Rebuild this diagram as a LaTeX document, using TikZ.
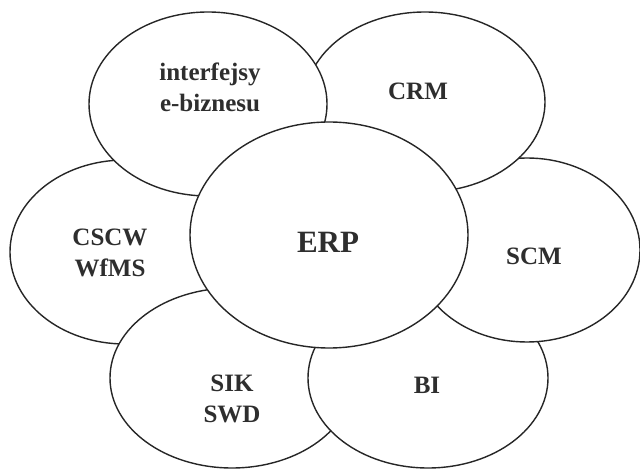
\documentclass[tikz,border=0pt]{standalone}
\usepackage{fontspec}
\setmainfont{Liberation Serif}
\usetikzlibrary{shapes.geometric}
\definecolor{ink}{HTML}{262626}
\definecolor{txt}{HTML}{2E2E2E}
\begin{document}
\begin{tikzpicture}[x=1pt,y=-1pt,
 bub/.style={ellipse, draw=ink, line width=1.4pt, fill=white, inner sep=0pt, outer sep=0pt},
 lab/.style={font=\fontsize{25}{31}\selectfont\bfseries, text=txt, align=center, inner sep=0pt},
 biglab/.style={font=\fontsize{31}{37}\selectfont\bfseries, text=txt, inner sep=0pt}]
\useasboundingbox (0,0) rectangle (640,470);
% ellipses, from the lowest layer up
\node[bub, minimum width=230pt, minimum height=184pt] (cscw) at (125,252) {};
\node[bub, minimum width=244pt, minimum height=180pt] (sik) at (232,378) {};
\node[bub, minimum width=240pt, minimum height=180pt] (bi) at (428,378) {};
\node[bub, minimum width=226pt, minimum height=184pt] (scm) at (527,250) {};
\node[bub, minimum width=240pt, minimum height=180pt] (crm) at (425,102) {};
\node[bub, minimum width=238pt, minimum height=184pt] (ieb) at (208,104) {};
\node[bub, minimum width=278pt, minimum height=226pt] (erp) at (329,235) {};
% labels
\node[lab] (iebT) at (210,87) {interfejsy\\e-biznesu};
\node[lab] (crmT) at (418,91.5) {CRM};
\node[lab] (cscwT) at (110,252.5) {CSCW\\WfMS};
\node[lab] (scmT) at (534,256.5) {SCM};
\node[lab] (sikT) at (232,399) {SIK\\SWD};
\node[lab] (biT) at (427,385) {BI};
\node[biglab] (erpT) at (328,242) {ERP};
\end{tikzpicture}
\end{document}
